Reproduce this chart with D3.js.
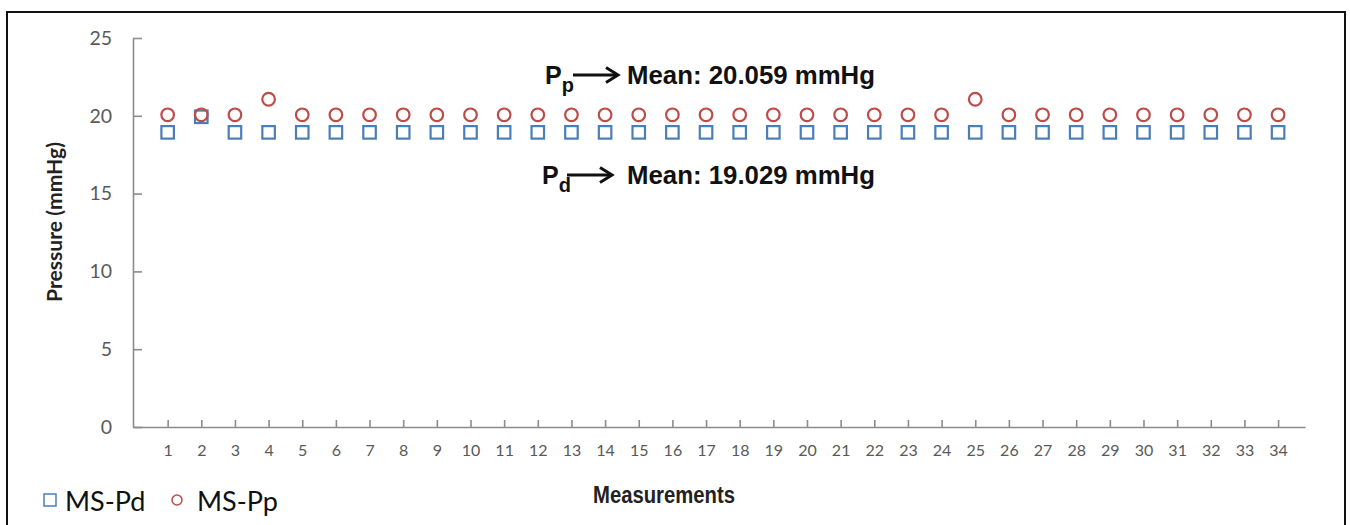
<!DOCTYPE html>
<html>
<head>
<meta charset="utf-8">
<script src="https://cdn.jsdelivr.net/npm/d3@7"></script>
<style>
  body { margin: 0; background: #fff; }
  svg { display: block; }
</style>
</head>
<body>
<div id="chart"></div>
<script>
// Data
let measurements = [1, 2, 3, 4, 5, 6, 7, 8, 9, 10, 11, 12, 13, 14, 15, 16, 17,
  18, 19, 20, 21, 22, 23, 24, 25, 26, 27, 28, 29, 30, 31, 32, 33, 34];
let msPd = [19, 20, 19, 19, 19, 19, 19, 19, 19, 19, 19, 19, 19, 19, 19, 19, 19,
  19, 19, 19, 19, 19, 19, 19, 19, 19, 19, 19, 19, 19, 19, 19, 19, 19];
let msPp = [20, 20, 20, 21, 20, 20, 20, 20, 20, 20, 20, 20, 20, 20, 20, 20, 20,
  20, 20, 20, 20, 20, 20, 20, 21, 20, 20, 20, 20, 20, 20, 20, 20, 20];
let yTicks = [0, 5, 10, 15, 20, 25];
let seriesNames = ['MS-Pd', 'MS-Pp'];
let annotations = [
  { sub: 'p', text: 'Mean: 20.059 mmHg' },
  { sub: 'd', text: 'Mean: 19.029 mmHg' }
];

// Set up SVG
let svgWidth = 1350;
let svgHeight = 525;

let blue = '#4a7ebb';
let red = '#be4b48';
let axisGray = '#8c8c8c';
let labelGray = '#595959';

let svg = d3.select('#chart').append('svg')
  .attr('width', svgWidth)
  .attr('height', svgHeight);

// frame
svg.append('rect')
  .attr('x', 7)
  .attr('y', 12)
  .attr('width', 1338)
  .attr('height', 530)
  .attr('fill', 'none')
  .attr('stroke', '#111')
  .attr('stroke-width', 2);

// scales
let xScale = d3.scaleLinear()
  .domain([0, 34.8])
  .range([134, 1305]);

let yScale = d3.scaleLinear()
  .domain([0, 25])
  .range([427, 38]);

// X axis
let xAxis = svg.append('g')
  .attr('transform', `translate(0, ${yScale(0)})`)
  .call(d3.axisBottom(xScale)
    .tickValues(measurements)
    .tickFormat(d3.format('d'))
    .tickSizeInner(-7)
    .tickSizeOuter(0)
    .tickPadding(18));

// Y axis
let yAxis = svg.append('g')
  .attr('transform', `translate(${xScale(0) - 1}, 0)`)
  .call(d3.axisLeft(yScale)
    .tickValues(yTicks)
    .tickSizeInner(-9)
    .tickSizeOuter(0)
    .tickPadding(21));

svg.selectAll('.domain, .tick line')
  .attr('stroke', axisGray)
  .attr('stroke-width', 1.6);

xAxis.selectAll('text')
  .attr('fill', labelGray)
  .style('font-family', 'Lato, "Open Sans", sans-serif')
  .style('font-size', '16px');

yAxis.selectAll('text')
  .attr('fill', labelGray)
  .style('font-family', 'Lato, "Open Sans", sans-serif')
  .style('font-size', '19.5px');

// axis titles
svg.append('text')
  .attr('x', 664)
  .attr('y', 503)
  .attr('text-anchor', 'middle')
  .attr('textLength', 142)
  .attr('lengthAdjust', 'spacingAndGlyphs')
  .style('font-family', '"Liberation Sans", Arial, sans-serif')
  .style('font-weight', 'bold')
  .style('font-size', '23px')
  .attr('fill', '#222')
  .text('Measurements');

svg.append('text')
  .attr('transform', 'translate(62, 222) rotate(-90)')
  .attr('text-anchor', 'middle')
  .attr('textLength', 160)
  .attr('lengthAdjust', 'spacingAndGlyphs')
  .style('font-family', 'Lato, "Open Sans", sans-serif')
  .style('font-weight', 'bold')
  .style('font-size', '21px')
  .attr('fill', '#222')
  .text('Pressure (mmHg)');

// MS-Pd squares
let sq = 12.5;
svg.selectAll('.pd')
  .data(measurements)
  .enter()
  .append('rect')
  .classed('pd', true)
  .attr('x', (d, i) => xScale(d) - sq / 2)
  .attr('y', (d, i) => yScale(msPd[i]) - sq / 2 + 1)
  .attr('width', sq)
  .attr('height', sq)
  .attr('fill', 'none')
  .attr('stroke', blue)
  .attr('stroke-width', 2.2);

// MS-Pp circles
svg.selectAll('.pp')
  .data(measurements)
  .enter()
  .append('circle')
  .classed('pp', true)
  .attr('cx', d => xScale(d))
  .attr('cy', (d, i) => yScale(msPp[i]) - 1)
  .attr('r', 6.3)
  .attr('fill', 'none')
  .attr('stroke', red)
  .attr('stroke-width', 2.2);

// annotations
let annY = [84, 184];
let annX = [545, 542];
annotations.forEach(function(a, i) {
  let g = svg.append('g');
  let t = g.append('text')
    .attr('x', annX[i])
    .attr('y', annY[i])
    .style('font-family', '"Liberation Sans", Arial, sans-serif')
    .style('font-weight', 'bold')
    .style('font-size', '25px')
    .attr('fill', '#111');
  t.append('tspan').text('P');
  t.append('tspan')
    .attr('dy', 8)
    .style('font-size', '20px')
    .text(a.sub);

  let ay = annY[i] - 9;
  let ax0 = annX[i] + 28 - i * 3;
  let ax1 = ax0 + 45;
  g.append('line')
    .attr('x1', ax0)
    .attr('x2', ax1 - 1)
    .attr('y1', ay)
    .attr('y2', ay)
    .attr('stroke', '#111')
    .attr('stroke-width', 3);
  g.append('path')
    .attr('d', `M${ax1 - 12},${ay - 7.5} L${ax1},${ay} L${ax1 - 12},${ay + 7.5}`)
    .attr('fill', 'none')
    .attr('stroke', '#111')
    .attr('stroke-width', 3);

  g.append('text')
    .attr('x', 627)
    .attr('y', annY[i])
    .attr('textLength', 248)
    .attr('lengthAdjust', 'spacingAndGlyphs')
    .style('font-family', '"Liberation Sans", Arial, sans-serif')
    .style('font-weight', 'bold')
    .style('font-size', '25px')
    .attr('fill', '#111')
    .text(a.text);
});

// legend
let legend = svg.append('g');
legend.append('rect')
  .attr('x', 44)
  .attr('y', 494)
  .attr('width', 12)
  .attr('height', 12)
  .attr('fill', 'none')
  .attr('stroke', blue)
  .attr('stroke-width', 1.5);
legend.append('circle')
  .attr('cx', 177)
  .attr('cy', 500)
  .attr('r', 5)
  .attr('fill', 'none')
  .attr('stroke', red)
  .attr('stroke-width', 1.5);
let legendX = [65, 197];
seriesNames.forEach(function(name, i) {
  legend.append('text')
    .attr('x', legendX[i])
    .attr('y', 511)
    .style('font-family', 'Lato, "Open Sans", sans-serif')
    .style('font-size', '27px')
    .attr('fill', '#111')
    .text(name);
});
</script>
</body>
</html>
